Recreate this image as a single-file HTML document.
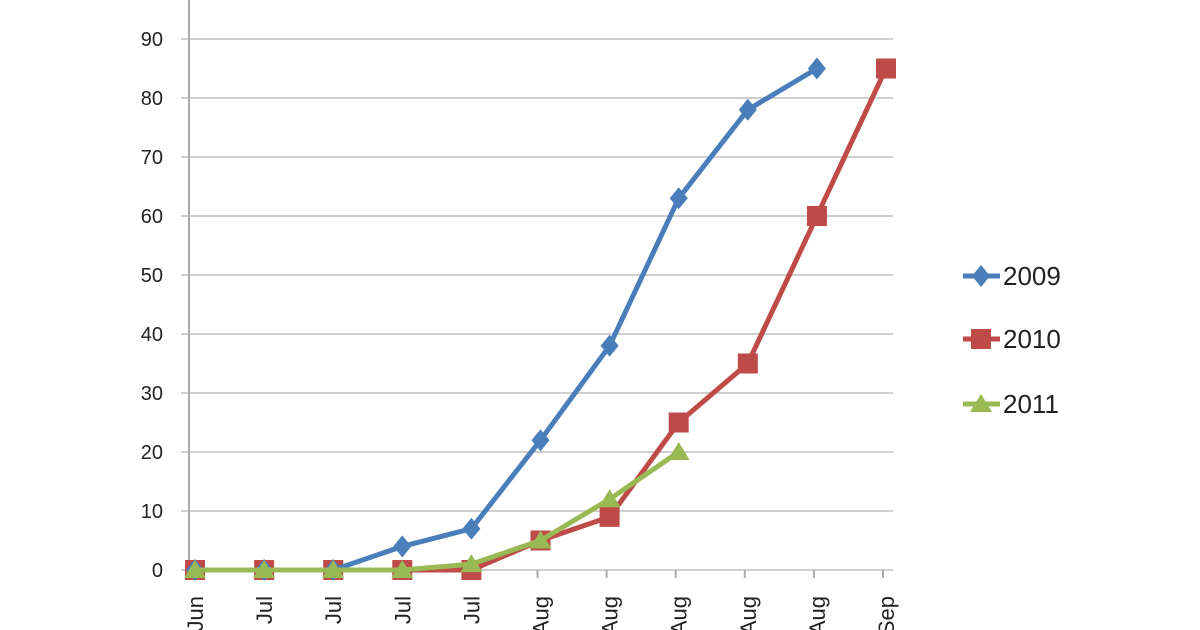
<!DOCTYPE html>
<html><head><meta charset="utf-8"><style>
body{margin:0;background:#fff;width:1200px;height:630px;overflow:hidden;font-family:"Liberation Sans",sans-serif}
</style></head><body>
<svg id="c" width="1200" height="630" style="position:absolute;left:0;top:0"></svg>
<script>
const categories=["Jun","Jul","Jul","Jul","Jul","Aug","Aug","Aug","Aug","Aug","Sep"];
const s2009=[0,0,0,4,7,22,38,63,78,85];
const s2010=[0,0,0,0,0,5,9,25,35,60,85];
const s2011=[0,0,0,0,1,5,12,20];
const yTicks=[0,10,20,30,40,50,60,70,80,90];
const seriesNames=["2009","2010","2011"];
const NS="http://www.w3.org/2000/svg";
const svg=document.getElementById('c');
const x0=195,dx=69.1,yz=570,py=5.9;
const X=i=>x0+i*dx, Y=v=>yz-v*py;
function el(t,a,p){const e=document.createElementNS(NS,t);for(const k in a)e.setAttribute(k,a[k]);(p||svg).appendChild(e);return e;}
yTicks.forEach(v=>{
 const g=el('line',{x1:181,x2:893,y1:Y(v),y2:Y(v),stroke:'#cfcfcf','stroke-width':2});
 
 const t=el('text',{x:163,y:Y(v)+7,'text-anchor':'end','font-size':20,fill:'#222'});t.textContent=v;
 
});
let ax=el('line',{x1:189,x2:189,y1:0,y2:yz,stroke:'#aaa','stroke-width':2});

categories.forEach((c,i)=>{
 const tk=el('line',{x1:X(i)-3,x2:X(i)-3,y1:yz,y2:yz+8,stroke:'#aaa','stroke-width':2});
 
 const t=el('text',{x:0,y:0,'text-anchor':'end','font-size':22,fill:'#222',transform:`translate(${X(i)+8},596) rotate(-90)`});t.textContent=c;
 
});
function marker(type,x,y,col,g){
 let m;
 if(type==0)m=el('polygon',{points:`${x},${y-11} ${x+9},${y} ${x},${y+11} ${x-9},${y}`,fill:col},g);
 else if(type==1)m=el('rect',{x:x-10,y:y-10,width:20,height:20,fill:col},g);
 else m=el('polygon',{points:`${x},${y-10} ${x+11},${y+8} ${x-11},${y+8}`,fill:col},g);
 
}
const cols=['#4a7ebb','#be4b48','#98b954'];
[s2010,s2009,s2011].forEach((s,k)=>{
 const idx=[1,0,2][k];
 const g=el('g',{});
 el('polyline',{points:s.map((v,i)=>X(i)+','+Y(v)).join(' '),fill:'none',stroke:cols[idx],'stroke-width':5,'stroke-linejoin':'round'},g);
 s.forEach((v,i)=>marker(idx,X(i),Y(v),cols[idx],g));
});
const ly=[276,339,404];
seriesNames.forEach((n,i)=>{
 const g=el('g',{});
 el('line',{x1:963,x2:1000,y1:ly[i],y2:ly[i],stroke:cols[i],'stroke-width':5},g);
 marker(i,981,ly[i],cols[i],g);
 const t=el('text',{x:1003,y:ly[i]+9,'font-size':26,fill:'#222'},g);t.textContent=n;
});
</script>
</body></html>
